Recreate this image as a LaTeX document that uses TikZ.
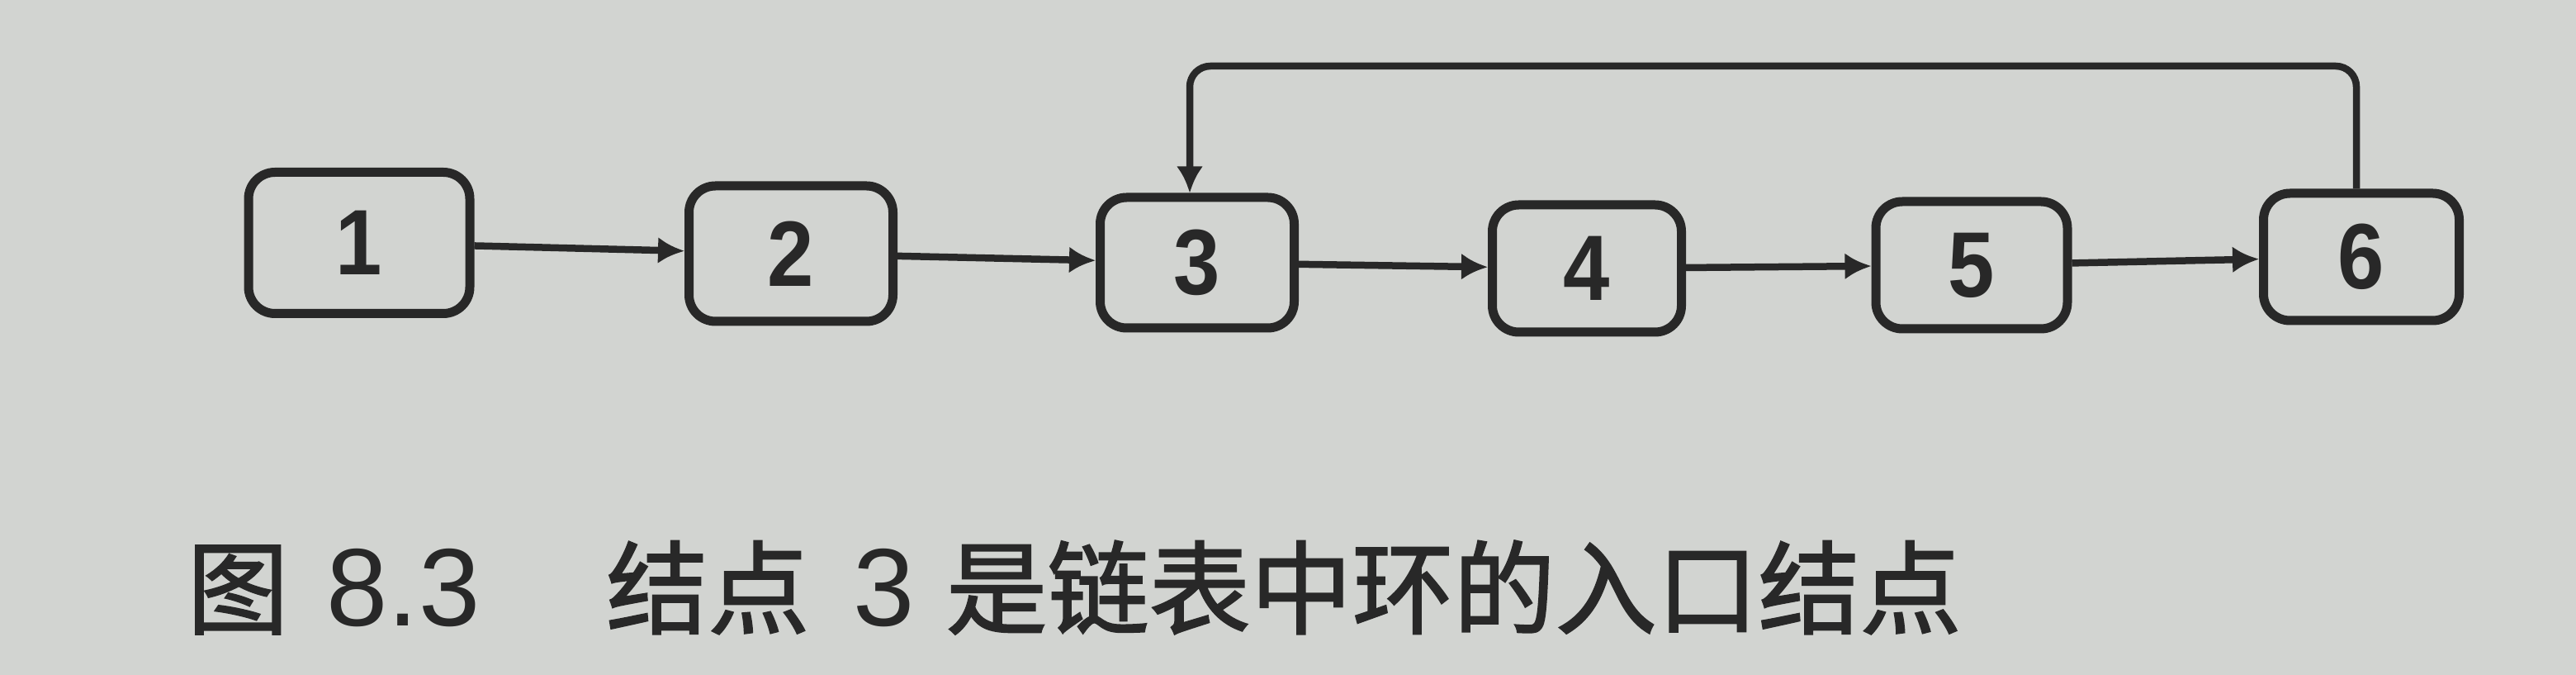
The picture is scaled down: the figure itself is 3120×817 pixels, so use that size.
\documentclass[tikz,border=0pt]{standalone}
\usepackage{fontspec}
\setmainfont{Liberation Sans}
\newfontfamily\cjk[FakeBold=1.6]{Noto Sans CJK SC}
\newfontfamily\boxfont[FakeStretch=0.9]{Liberation Sans}
\usetikzlibrary{arrows.meta}
\definecolor{paper}{RGB}{210,212,209}
\definecolor{ink}{RGB}{40,40,40}
\begin{document}
\begin{tikzpicture}[x=0.1mm,y=-0.1mm,
  box/.style={draw=ink,line width=1.1mm,rounded corners=3.2mm,inner sep=0pt,
    font=\boxfont\fontsize{32}{38}\selectfont\bfseries,text=ink},
  link/.style={draw=ink,line width=0.85mm,-{Latex[length=3.2mm,width=3.2mm]}},
  loopline/.style={draw=ink,line width=0.85mm,rounded corners=2.5mm,-{Latex[length=3.2mm,width=3.2mm]}},
  caption/.style={anchor=base west,inner sep=0pt,text=ink}]
\fill[paper] (0,0) rectangle (3120,817);
\useasboundingbox (0,0) rectangle (3120,817);
\node[box,minimum width=26.8mm,minimum height=17.1mm] (n1) at (435,294) {1};
\node[box,minimum width=24.7mm,minimum height=16.4mm] (n2) at (958,307) {2};
\node[box,minimum width=23.5mm,minimum height=15.8mm] (n3) at (1450,318) {3};
\node[box,minimum width=22.9mm,minimum height=15.4mm] (n4) at (1922,325) {4};
\node[box,minimum width=23.2mm,minimum height=15.4mm] (n5) at (2388,321) {5};
\node[box,minimum width=23.7mm,minimum height=15.4mm] (n6) at (2860,311) {6};
\coordinate (top) at (0,80);
\draw[link] (n1) -- (n2);
\draw[link] (n2) -- (n3);
\draw[link] (n3) -- (n4);
\draw[link] (n4) -- (n5);
\draw[link] (n5) -- (n6);
\draw[loopline] ([xshift=-0.6mm]n6.north) -- ([xshift=-0.6mm]n6.north |- top)
  -- ([xshift=-0.9mm]n3.north |- top) -- ([xshift=-0.9mm]n3.north);
\node[caption] (cap) at (226,758) {\cjk\fontsize{35}{42}\selectfont 图\hspace{4.6mm}{\rmfamily\fontsize{38}{42}\selectfont 8.3}\hspace{15.3mm}结点\hspace{5.3mm}{\rmfamily\fontsize{38}{42}\selectfont 3}\hspace{3.8mm}是链表中环的入口结点};
\end{tikzpicture}
\end{document}
